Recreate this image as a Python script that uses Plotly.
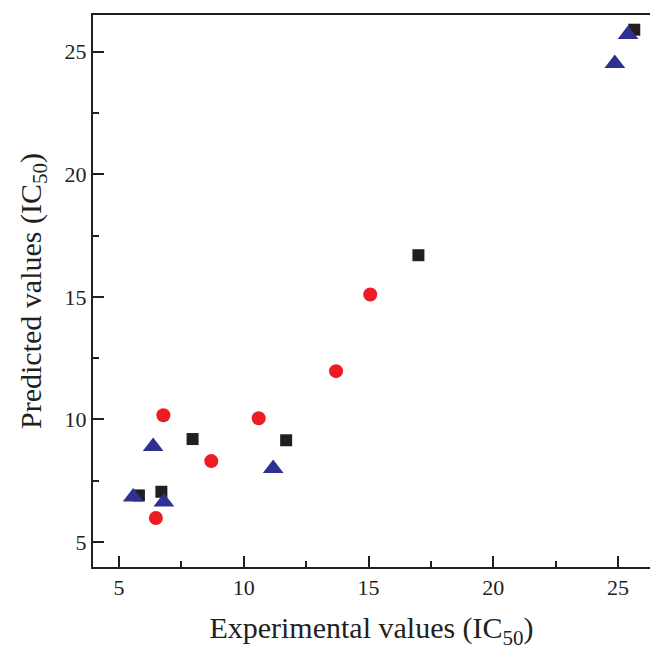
import plotly.graph_objects as go

sq_x = [5.8, 6.7, 7.95, 11.7, 17.0, 25.65]
sq_y = [6.9, 7.05, 9.2, 9.15, 16.7, 25.9]
ci_x = [6.48, 6.78, 8.7, 10.6, 13.7, 15.07]
ci_y = [5.98, 10.17, 8.3, 10.05, 11.97, 15.1]
tr_x = [5.57, 6.37, 6.8, 11.18, 24.87, 25.4]
tr_y = [6.84, 8.9, 6.63, 8.0, 24.52, 25.7]

fig = go.Figure()
fig.add_trace(go.Scatter(x=sq_x, y=sq_y, mode="markers",
                         marker=dict(symbol="square", size=12, color="#231f20")))
fig.add_trace(go.Scatter(x=ci_x, y=ci_y, mode="markers",
                         marker=dict(symbol="circle", size=14, color="#ed1c24")))
fig.add_trace(go.Scatter(x=tr_x, y=tr_y, mode="markers",
                         marker=dict(symbol="triangle-up", size=18, color="#2e3192")))

font = "Liberation Serif, Times New Roman, serif"
fig.update_layout(
    width=650, height=651,
    margin=dict(l=93, r=0, t=15, b=84),
    plot_bgcolor="white", paper_bgcolor="white",
    showlegend=False,
    font=dict(family=font, color="#231f20", size=22),
    xaxis=dict(range=[3.96, 26.28], tickvals=[5, 10, 15, 20, 25],
               ticks="inside", ticklen=11, tickwidth=2, tickcolor="#231f20",
               minor=dict(tickvals=[7.5, 12.5, 17.5, 22.5], ticks="inside", ticklen=6,
                          tickwidth=2, tickcolor="#231f20"),
               showline=True, linewidth=2, linecolor="#231f20", mirror=True,
               showgrid=False, zeroline=False,
               title=dict(text="Experimental values (IC<sub>50</sub>)", font=dict(size=30), standoff=18)),
    yaxis=dict(range=[3.98, 26.5], tickvals=[5, 10, 15, 20, 25],
               ticks="inside", ticklen=11, tickwidth=2, tickcolor="#231f20",
               minor=dict(tickvals=[7.5, 12.5, 17.5, 22.5], ticks="inside", ticklen=6,
                          tickwidth=2, tickcolor="#231f20"),
               showline=True, linewidth=2, linecolor="#231f20", mirror=False,
               showgrid=False, zeroline=False,
               title=dict(text="Predicted values (IC<sub>50</sub>)", font=dict(size=30), standoff=14)),
)
fig.write_html("out.html", config={"displayModeBar": False},
               post_script="document.body.style.margin='0';document.body.style.overflow='hidden';")
